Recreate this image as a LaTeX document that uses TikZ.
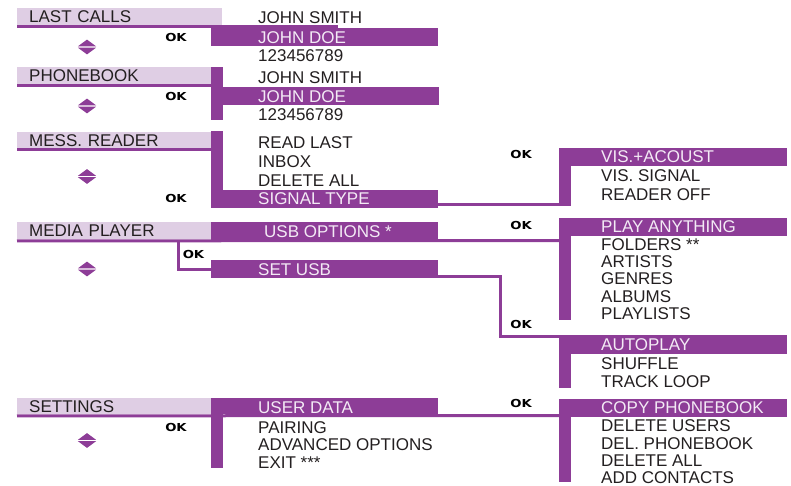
\documentclass[tikz,border=0pt]{standalone}
\usepackage{fontspec}
\setmainfont{Liberation Sans}
\newfontfamily\okfamily{DejaVu Sans}
\definecolor{pur}{HTML}{8D3D97}
\definecolor{lav}{HTML}{DFCEE4}
\definecolor{ink}{HTML}{231F20}
\definecolor{hlt}{HTML}{F3EAF5}
\newcommand{\bigf}{\fontsize{17}{17}\selectfont}
\newcommand{\okf}{\okfamily\fontsize{11}{11}\selectfont\bfseries}
\tikzset{
  hd/.style={fill=lav, anchor=north west, inner xsep=12pt, inner ysep=0pt, text width=170pt, align=left,
    text height=12.2pt, text depth=0pt, font=\bigf, text=ink},
  bar/.style={fill=pur, anchor=north west, inner sep=0pt, outer sep=0pt},
  conn/.style={draw=pur, line width=3pt, line cap=butt},
  txt/.style={anchor=west, inner sep=0pt, text height=12.2pt, text depth=0pt, text=ink, font=\bigf},
  hl/.style={txt, text=hlt},
  ok/.style={inner sep=0pt, text=black, font=\okf},
  updown/.pic={
    \fill[pur] (-9.2,-0.6) -- (0,-7.4) -- (9.2,-0.6) -- cycle;
    \fill[pur] (-9.2,0.6) -- (0,7.4) -- (9.2,0.6) -- cycle;
  }
}
\newcommand{\OK}{\scalebox{1.2}[1]{OK}}
\begin{document}
\begin{tikzpicture}[x=1pt,y=-1pt]
\useasboundingbox (0,0) rectangle (791,486);

% ---------- LAST CALLS ----------
\node[hd, text width=181pt, minimum height=17pt] (hLC) at (17,8) {LAST CALLS};
\node[bar, minimum width=227pt, minimum height=18pt] (bLC) at (211,28) {};
\draw[conn] ([yshift=-1.5pt]hLC.south west) -- ++(321,0);
\node[txt] (lc1) at (258,17.5) {JOHN SMITH};
\node[hl]  (lc2) at (258,37.3) {JOHN DOE};
\node[txt] (lc3) at (258,55.5) {123456789};
\node[ok] (okLC) at (176,37.5) {\OK};
\pic (udLC) at (87,47) {updown};

% ---------- PHONEBOOK ----------
\node[hd, minimum height=17pt] (hPB) at (17,67) {PHONEBOOK};
\node[bar, minimum width=12pt, minimum height=53pt] (vPB) at (211,67) {};
\node[bar, minimum width=228pt, minimum height=18pt] (bPB) at (211,87) {};
\draw[conn] ([yshift=-1.5pt]hPB.south west) -- ([yshift=-1.5pt]hPB.south east);
\node[txt] (pb1) at (258,77.2) {JOHN SMITH};
\node[hl]  (pb2) at (258,96.3) {JOHN DOE};
\node[txt] (pb3) at (258,114.5) {123456789};
\node[ok] (okPB) at (176,96.7) {\OK};
\pic (udPB) at (87,106) {updown};

% ---------- MESS. READER ----------
\node[hd, minimum height=16pt] (hMR) at (17,132) {MESS. READER};
\node[bar, minimum width=12pt, minimum height=77pt] (vMR) at (211,131) {};
\node[bar, minimum width=227pt, minimum height=18pt] (bST) at (211,190) {};
\draw[conn] ([yshift=-1.5pt]hMR.south west) -- ([yshift=-1.5pt]hMR.south east);
\node[txt] (mr1) at (258,142.5) {READ LAST};
\node[txt] (mr2) at (258,161.7) {INBOX};
\node[txt] (mr3) at (258,180) {DELETE ALL};
\node[hl]  (mr4) at (258,198.5) {SIGNAL TYPE};
\node[ok] (okMR) at (176,198.5) {\OK};
\pic (udMR) at (87,176.5) {updown};

\node[bar, minimum width=12pt, minimum height=58pt] (vVA) at (559,148) {};
\node[bar, minimum width=228pt, minimum height=18pt] (hVA) at (559,148) {};
\draw[conn] (bST.east |- 0,205) -- (vVA.west |- 0,205);
\node[hl]  (va1) at (601,156.7) {VIS.+ACOUST};
\node[txt] (va2) at (601,175.8) {VIS. SIGNAL};
\node[txt] (va3) at (601,194.2) {READER OFF};
\node[ok] (okVA) at (521,154.5) {\OK};

% ---------- MEDIA PLAYER ----------
\node[hd, minimum height=17pt] (hMP) at (17,222) {MEDIA PLAYER};
\node[bar, minimum width=227pt, minimum height=20pt] (bUSB) at (211,222) {};
\node[bar, minimum width=227pt, minimum height=18pt] (bSU) at (211,260) {};
\node[hl]  (mp1) at (264,231.3) {USB OPTIONS *};
\node[hl]  (mp2) at (258,269.5) {SET USB};
\node[ok] (okMP) at (193.5,254) {\OK};
\pic (udMP) at (87,269) {updown};

\node[bar, minimum width=12pt, minimum height=102pt] (vPA) at (559,218) {};
\node[bar, minimum width=228pt, minimum height=18pt] (hPA) at (559,218) {};
\draw[conn] ([yshift=-1.5pt]hMP.south west) -- (vPA.west |- 0,240.5);
\draw[conn] (178.5,240.5) |- (bSU.west);
\node[hl]  (pa1) at (601,226.3) {PLAY ANYTHING};
\node[txt] (pa2) at (601,244) {FOLDERS **};
\node[txt] (pa3) at (601,261.7) {ARTISTS};
\node[txt] (pa4) at (601,278.3) {GENRES};
\node[txt] (pa5) at (601,296) {ALBUMS};
\node[txt] (pa6) at (601,313.3) {PLAYLISTS};
\node[ok] (okPA) at (521,225) {\OK};

\node[bar, minimum width=12pt, minimum height=53pt] (vAP) at (559,335) {};
\node[bar, minimum width=228pt, minimum height=19pt] (hAP) at (559,335) {};
\draw[conn] (bSU.east |- 0,276.5) -| (500.5,336.5) -- (vAP.west |- 0,336.5);
\node[hl]  (ap1) at (601,344.5) {AUTOPLAY};
\node[txt] (ap2) at (601,363) {SHUFFLE};
\node[txt] (ap3) at (601,381.7) {TRACK LOOP};
\node[ok] (okAP) at (521,324) {\OK};

% ---------- SETTINGS ----------
\node[hd, minimum height=16pt] (hSE) at (17,398) {SETTINGS};
\node[bar, minimum width=12pt, minimum height=70pt] (vSE) at (211,398) {};
\node[bar, minimum width=227pt, minimum height=16pt] (bUD) at (211,398) {};
\node[hl]  (se1) at (258,407) {USER DATA};
\node[txt] (se2) at (258,427) {PAIRING};
\node[txt] (se3) at (258,444.3) {ADVANCED OPTIONS};
\node[txt] (se4) at (258,462) {EXIT ***};
\node[ok] (okSE) at (176,427.5) {\OK};
\pic (udSE) at (87,440.5) {updown};

\node[bar, minimum width=12pt, minimum height=83pt] (vCP) at (559,399) {};
\node[bar, minimum width=228pt, minimum height=18pt] (hCP) at (559,399) {};
\draw[conn] ([yshift=-1.5pt]hSE.south west) -- (vCP.west |- 0,415.5);
\node[hl]  (cp1) at (601,407.5) {COPY PHONEBOOK};
\node[txt] (cp2) at (601,425.8) {DELETE USERS};
\node[txt] (cp3) at (601,443.3) {DEL. PHONEBOOK};
\node[txt] (cp4) at (601,460.5) {DELETE ALL};
\node[txt] (cp5) at (601,477.5) {ADD CONTACTS};
\node[ok] (okCP) at (521,403) {\OK};
\end{tikzpicture}
\end{document}
